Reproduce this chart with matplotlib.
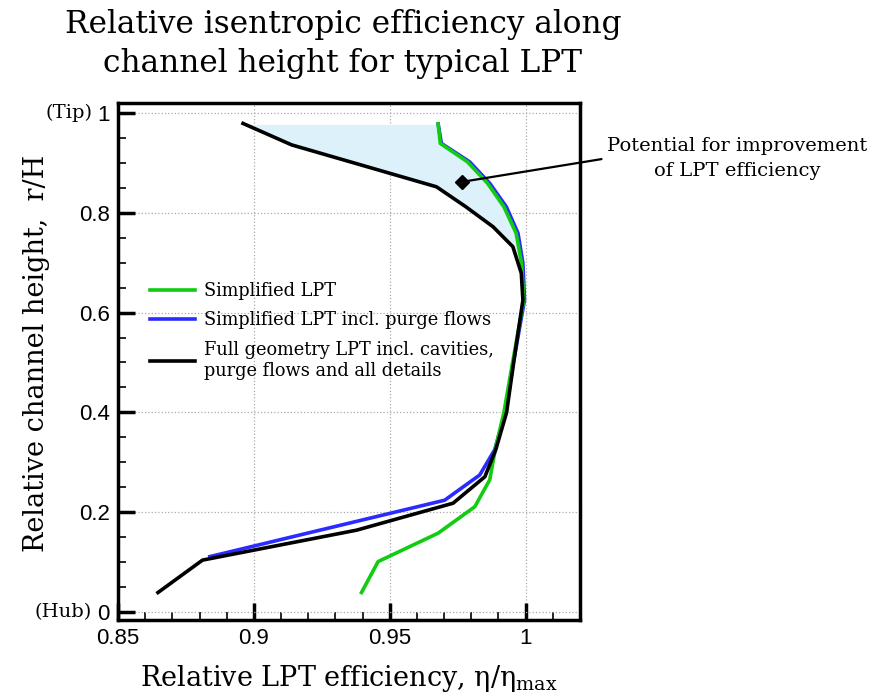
import numpy as np
import matplotlib
matplotlib.use('Agg')
import matplotlib.pyplot as plt
from matplotlib.ticker import MultipleLocator

# Full geometry LPT incl. cavities (black)
full_eff = [0.8647, 0.8811, 0.9378, 0.9733, 0.9850, 0.9890, 0.9930, 0.9956, 0.9990,
            0.9984, 0.9953, 0.9880, 0.9780, 0.9672, 0.9139, 0.8960]
full_h = [0.039, 0.104, 0.164, 0.218, 0.271, 0.325, 0.400, 0.500, 0.625,
          0.679, 0.732, 0.772, 0.812, 0.852, 0.936, 0.979]

# Simplified LPT incl. purge flows (blue)
purge_eff = [0.8838, 0.9702, 0.9831, 0.9886, 0.9925, 0.9955, 0.9996, 0.9990, 0.9972,
             0.9929, 0.9868, 0.9794, 0.9690, 0.9678]
purge_h = [0.111, 0.224, 0.2745, 0.325, 0.400, 0.500, 0.625, 0.699, 0.759,
           0.812, 0.859, 0.902, 0.939, 0.978]

# Simplified LPT (green)
simp_eff = [0.9396, 0.9457, 0.9678, 0.9813, 0.9868, 0.9888, 0.9920, 0.9952, 0.9993,
            0.9985, 0.9965, 0.9920, 0.9860, 0.9786, 0.9686, 0.9678]
simp_h = [0.039, 0.101, 0.158, 0.211, 0.265, 0.325, 0.400, 0.500, 0.625,
          0.699, 0.759, 0.812, 0.859, 0.902, 0.939, 0.978]

serif = 'DejaVu Serif'
sans = ['Liberation Sans', 'DejaVu Sans']
plt.rcParams['mathtext.fontset'] = 'dejavuserif'

fig = plt.figure(figsize=(8.86, 7), dpi=100)
ax = fig.add_axes([0.1332, 0.1143, 0.5214, 0.7386])

# shaded region between full geometry and purge-flow curve
yy = np.linspace(0.64, 0.977, 200)
order_f = np.argsort(full_h)
order_p = np.argsort(purge_h)
xf = np.interp(yy, np.array(full_h)[order_f], np.array(full_eff)[order_f])
xp = np.interp(yy, np.array(purge_h)[order_p], np.array(purge_eff)[order_p])
ax.fill_betweenx(yy, xf, xp, color='#dcf1fa', lw=0, zorder=1)

ax.plot(simp_eff, simp_h, color='#11cc11', lw=2.6, label='Simplified LPT', zorder=3)
ax.plot(purge_eff, purge_h, color='#2b2bff', lw=2.6,
        label='Simplified LPT incl. purge flows', zorder=2.5)
ax.plot(full_eff, full_h, color='black', lw=2.6,
        label='Full geometry LPT incl. cavities,\npurge flows and all details', zorder=4)

ax.set_xlim(0.85, 1.02)
ax.set_ylim(-0.016, 1.02)
ax.xaxis.set_minor_locator(MultipleLocator(0.01))
ax.yaxis.set_minor_locator(MultipleLocator(0.05))
ax.set_xticks([0.85, 0.9, 0.95, 1.0])
ax.set_xticklabels(['0.85', '0.9', '0.95', '1'])
ax.set_yticks([0, 0.2, 0.4, 0.6, 0.8, 1.0])
ax.set_yticklabels(['0', '0.2', '0.4', '0.6', '0.8', '1'])
for lab in ax.get_xticklabels() + ax.get_yticklabels():
    lab.set_family(sans)
    lab.set_fontsize(16)

ax.tick_params(which='major', direction='in', length=12, width=2.5, pad=6)
ax.tick_params(which='minor', direction='in', length=6, width=1.2)
for s in ax.spines.values():
    s.set_linewidth(2.5)
ax.grid(True, which='major', linestyle=':', color='#aaaaaa', lw=0.9)
ax.set_axisbelow(True)

ax.text(-0.056, 1.0, '(Tip)', transform=ax.get_yaxis_transform(), ha='right',
        va='center', fontsize=14, family=serif)
ax.text(-0.056, 0.0, '(Hub)', transform=ax.get_yaxis_transform(), ha='right',
        va='center', fontsize=14, family=serif)

ax.set_xlabel('Relative LPT efficiency, η/η$_{\\mathrm{max}}$', fontsize=19.5,
              family=serif, labelpad=10)
ax.set_ylabel('Relative channel height,  r/H', fontsize=19.5, family=serif)
ax.yaxis.set_label_coords(-0.148, 0.515)

fig.text(0.387, 0.937, 'Relative isentropic efficiency along\nchannel height for typical LPT',
         ha='center', va='center', fontsize=22.5, family=serif, linespacing=1.35)

leg = ax.legend(loc='upper left', bbox_to_anchor=(0.035, 0.685), frameon=False,
                prop={'family': serif, 'size': 12.8}, handlelength=2.5,
                labelspacing=0.65, handletextpad=0.5)

ax.plot([0.9767], [0.862], marker='D', color='black', markersize=7, zorder=5)
ax.annotate('Potential for improvement\nof LPT efficiency', xy=(0.9767, 0.862),
            xytext=(0.832, 0.774), textcoords='figure fraction', ha='center',
            va='center', fontsize=14, family=serif, linespacing=1.5,
            arrowprops=dict(arrowstyle='-', color='black', lw=1.6, relpos=(0, 0.5),
                            shrinkA=2, shrinkB=0), annotation_clip=False)

fig.savefig('out.png', dpi=100)
